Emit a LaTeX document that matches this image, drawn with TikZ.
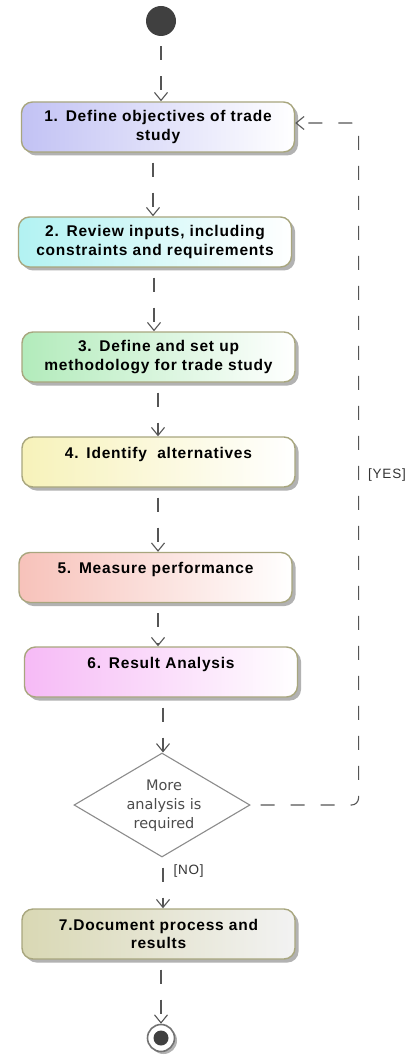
\documentclass[tikz,border=0pt]{standalone}
\usepackage{fontspec}
\setmainfont{Liberation Sans}
\newfontfamily\boxfont[LetterSpace=5]{Liberation Sans}
\newfontfamily\dvfont{DejaVu Sans}
\newfontfamily\lblfont[LetterSpace=6]{Liberation Sans}
\usetikzlibrary{arrows.meta,shapes.geometric,shadows}
\definecolor{boxedge}{HTML}{A8A67E}
\definecolor{linegray}{HTML}{555555}
\definecolor{dotgray}{HTML}{404040}
\definecolor{cA}{HTML}{C2C2F4}
\definecolor{cB}{HTML}{B2F2F2}
\definecolor{cC}{HTML}{B2EBBB}
\definecolor{cD}{HTML}{F7F2BA}
\definecolor{cE}{HTML}{F7C2BA}
\definecolor{cF}{HTML}{F6BAF6}
\definecolor{cG}{HTML}{D9D8B4}
\tikzset{
  actbox/.style={draw=boxedge, line width=1.4pt, rounded corners=11pt,
    text width=251pt, inner xsep=11pt, inner ysep=4pt, minimum height=50pt,
    align=center, right color=white,
    font=\boxfont\bfseries\fontsize{15.5}{18.3}\selectfont,
    drop shadow={shadow xshift=3.5pt, shadow yshift=-3.5pt, fill=black!30, opacity=1}},
  flow/.style={draw=linegray, line width=1.1pt, dash pattern=on 14pt off 16pt, dash phase=20pt,
    -{Straight Barb[length=8pt,width=13pt,line width=1.1pt]}},
  decision/.style={diamond, draw=black!45, line width=1.1pt, fill=white,
    minimum width=176pt, minimum height=104pt, inner sep=0pt},
  dectext/.style={align=center, inner sep=0pt,
    text=black!70, font=\dvfont\fontsize{14.5}{19}\selectfont},
  guard/.style={font=\lblfont\fontsize{13.5}{16}\selectfont, text=black!80, inner sep=0pt}
}
\begin{document}
\begin{tikzpicture}[x=1pt,y=-1pt]
\useasboundingbox[fill=white] (0,0) rectangle (412,1056);
\node[circle, fill=dotgray, minimum size=30pt, inner sep=0pt] (start) at (161,21) {};
\node[actbox, left color=cA] (b1) at (158,127) {1. Define objectives of trade\\study};
\node[actbox, left color=cB] (b2) at (155,242) {2. Review inputs, including\\constraints and requirements};
\node[actbox, left color=cC] (b3) at (158.5,357) {3. Define and set up\\methodology for trade study};
\node[actbox, left color=cD] (b4) at (158.5,462) {4. Identify\ \ alternatives\\\mbox{}};
\node[actbox, left color=cE] (b5) at (155.5,577.5) {5. Measure performance\\\mbox{}};
\node[actbox, left color=cF] (b6) at (161,672) {6. Result Analysis\\\mbox{}};
\node[decision] (d) at (162,805) {};
\node[dectext] (dt) at (164,806) {More\\analysis is\\required};
\node[actbox, left color=cG, right color=black!5!white] (b7) at (158.5,934) {7.Document process and\\results};
\node[circle, draw=black!55, line width=1.6pt, fill=white, minimum size=27pt, inner sep=0pt,
  drop shadow={shadow xshift=2.5pt, shadow yshift=-2.5pt, fill=black!30, opacity=1}] (end) at (161,1038) {};
\node[circle, fill=dotgray, minimum size=15pt, inner sep=0pt] (enddot) at (end.center) {};

\draw[flow] ([xshift=0pt]start.south) -- ([xshift=3pt]b1.north);
\draw[flow] ([xshift=-5pt]b1.south) -- ([xshift=-2pt]b2.north);
\draw[flow] ([xshift=-1pt]b2.south) -- ([xshift=-4.5pt]b3.north);
\draw[flow] ([xshift=-0.5pt]b3.south) -- ([xshift=-0.5pt]b4.north);
\draw[flow] ([xshift=-0.5pt]b4.south) -- ([xshift=2.5pt]b5.north);
\draw[flow] ([xshift=2.5pt]b5.south) -- ([xshift=-3pt]b6.north);
\draw[flow] ([xshift=2pt]b6.south) -- ([xshift=1pt]d.north);
\draw[flow] ([xshift=1pt]d.south) -- node[guard, right=10pt, pos=0.27] (no) {[NO]} ([xshift=4.5pt]b7.north);
\draw[flow, rounded corners=7pt] (d.east) -- ++(108,0) coordinate (corner) |- node[guard, pos=0.242, right=9pt] (yes) {[YES]} ([yshift=4pt]b1.east);
\draw[flow] ([xshift=2.5pt]b7.south) -- (end.north);
\end{tikzpicture}
\end{document}
